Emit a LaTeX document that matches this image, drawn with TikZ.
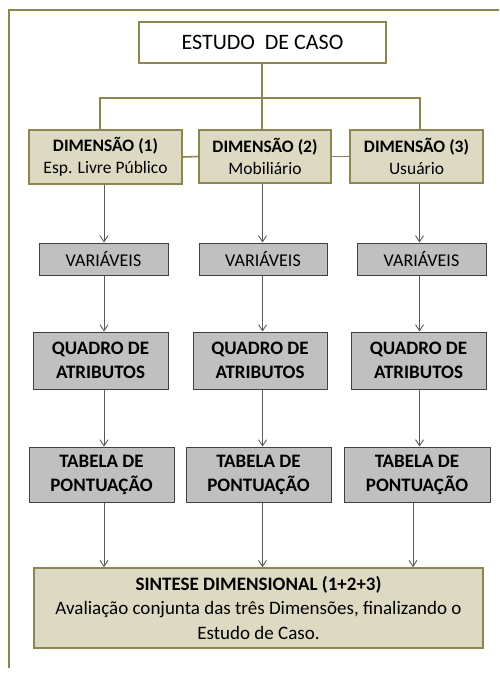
\documentclass[tikz,border=0pt]{standalone}
\usepackage{fontspec}
\setmainfont{Carlito}
\usetikzlibrary{arrows.meta}
\definecolor{olive}{HTML}{8C8650}
\definecolor{tan}{HTML}{DDD9C3}
\definecolor{boxgray}{HTML}{C0C0C0}
\definecolor{arrgray}{HTML}{5A5A5A}
\tikzset{
  top/.style={draw=olive,line width=1.6pt,fill=white,inner sep=0pt,align=center,font=\fontsize{22}{26}\selectfont},
  dim/.style={draw=olive,line width=1.6pt,fill=tan,inner sep=0pt,align=center,font=\fontsize{17.5}{22}\selectfont},
  gbox/.style={draw=black!75,line width=1pt,fill=boxgray,inner sep=0pt,align=center,font=\fontsize{18}{22}\selectfont},
  gboxb/.style={gbox,font=\bfseries\fontsize{19}{24}\selectfont},
  sint/.style={draw=olive,line width=1.6pt,fill=tan,inner sep=0pt,align=center,font=\fontsize{19}{24.5}\selectfont},
  link/.style={draw=olive,line width=1.6pt},
  arr/.style={draw=arrgray,line width=0.9pt,-{Straight Barb[length=6pt,width=8pt]}},
}
\begin{document}
\begin{tikzpicture}[x=1pt,y=-1pt]
\useasboundingbox (0,0) rectangle (499,674);
\draw[olive,line width=1.8pt] (9,668) -- (9,10) -- (499,10);
\node[top,minimum width=247pt,minimum height=41pt] (ec) at (262.5,42.5) {ESTUDO\ \ DE CASO};
\node[dim,minimum width=153pt,minimum height=54pt] (d1) at (105.5,157) {\textbf{DIMENSÃO (1)}\\Esp. Livre Público};
\node[dim,minimum width=132pt,minimum height=53pt] (d2) at (265,156.5) {\textbf{DIMENSÃO (2)}\\Mobiliário};
\node[dim,minimum width=133pt,minimum height=53pt] (d3) at (416.5,156.5) {\textbf{DIMENSÃO (3)}\\Usuário};
\coordinate (h1) at (100,98);
\coordinate (h2) at (262,98);
\coordinate (h3) at (420,98);
\draw[link] (ec.south -| h2) -- (h2);
\draw[link] (d1.north -| h1) -- (h1) -- (h3) -- (d3.north -| h3);
\draw[link] (h2) -- (d2.north -| h2);
\draw[link] (d1.east) -- (d2.west);
\draw[link] (d2.east) -- (d3.west);
\node[gbox,minimum width=129pt,minimum height=32pt] (v1) at (103.5,259) {VARIÁVEIS};
\node[gbox,minimum width=128pt,minimum height=32pt] (v2) at (263,259) {VARIÁVEIS};
\node[gbox,minimum width=129pt,minimum height=32pt] (v3) at (421.5,259) {VARIÁVEIS};
\node[gboxb,minimum width=135pt,minimum height=57pt] (q1) at (100.5,360.5) {QUADRO DE\\ATRIBUTOS};
\node[gboxb,minimum width=134pt,minimum height=57pt] (q2) at (260,360.5) {QUADRO DE\\ATRIBUTOS};
\node[gboxb,minimum width=135pt,minimum height=57pt] (q3) at (418.5,360.5) {QUADRO DE\\ATRIBUTOS};
\node[gboxb,minimum width=145pt,minimum height=55pt] (t1) at (101.5,474.5) {TABELA DE\\PONTUAÇÃO};
\node[gboxb,minimum width=145pt,minimum height=55pt] (t2) at (258.5,474.5) {TABELA DE\\PONTUAÇÃO};
\node[gboxb,minimum width=146pt,minimum height=55pt] (t3) at (417,474.5) {TABELA DE\\PONTUAÇÃO};
\node[sint,minimum width=449pt,minimum height=80pt] (s) at (258.5,608) {\textbf{SINTESE DIMENSIONAL (1+2+3)}\\Avaliação conjunta das três Dimensões, finalizando o\\Estudo de Caso.};
\coordinate (c1) at (104,0);
\coordinate (c2) at (262.5,0);
\coordinate (c3) at (419.5,0);
\coordinate (c3b) at (413,0);
\foreach \a/\b/\c in {d1/v1/c1,v1/q1/c1,q1/t1/c1,t1/s/c1,d2/v2/c2,v2/q2/c2,q2/t2/c2,t2/s/c2,d3/v3/c3,v3/q3/c3,q3/t3/c3}
  \draw[arr] (\a.south -| \c) -- (\b.north -| \c);
\draw[arr] (t3.south -| c3b) -- (s.north -| c3b);
\end{tikzpicture}
\end{document}
